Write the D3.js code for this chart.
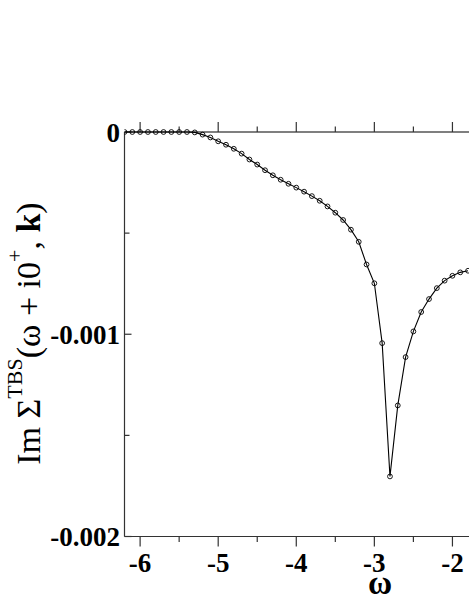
<!DOCTYPE html>
<html>
<head>
<meta charset="utf-8">
<script src="https://cdn.jsdelivr.net/npm/d3@7"></script>
<style>
	body { margin: 0; background: #fff; }
	svg { display: block; }
</style>
</head>
<body>
<div class="container"></div>
<script>
// omega values (x) and Im Sigma values (y)
var omega = [-6.2, -6.1, -6.0, -5.9, -5.8, -5.7, -5.6, -5.5, -5.4, -5.3,
	-5.2, -5.1, -5.0, -4.9, -4.8, -4.7, -4.6, -4.5, -4.4, -4.3,
	-4.2, -4.1, -4.0, -3.9, -3.8, -3.7, -3.6, -3.5, -3.4, -3.3,
	-3.2, -3.1, -3.0, -2.9, -2.8, -2.7, -2.6, -2.5, -2.4, -2.3,
	-2.2, -2.1, -2.0, -1.9, -1.8];
var imSigma = [0, 0, 0, 0, 0, 0, 0, 0, 0, -0.000002,
	-0.000013, -0.000027, -0.000046, -0.000063, -0.000083, -0.000107, -0.000136, -0.000161, -0.000189, -0.000214,
	-0.000236, -0.000256, -0.000275, -0.000295, -0.000317, -0.000340, -0.000368, -0.000399, -0.000435, -0.000483,
	-0.000543, -0.000655, -0.000748, -0.001044, -0.001703, -0.001352, -0.001113, -0.000986, -0.000890, -0.000826,
	-0.000772, -0.000735, -0.000711, -0.000694, -0.000686];

var xMajorTicks = [-6, -5, -4, -3, -2];
var xMinorTicks = [-5.5, -4.5, -3.5, -2.5, -1.5];
var yMajorTicks = [0, -0.001, -0.002];
var yMinorTicks = [-0.0005, -0.0015];
var yTickLabels = ['0', '-0.001', '-0.002'];

var width = 469, height = 607;
var plotLeft = 124.5, plotTop = 132, plotBottom = 536.5, plotRight = 500;

var svg = d3.select('.container').append('svg')
	.attr('width', width)
	.attr('height', height);

var x = d3.scaleLinear().domain([-6.2, -1.6]).range([plotLeft, plotLeft + 4.6 * 78.08]);
var y = d3.scaleLinear().domain([-0.002, 0]).range([plotBottom, plotTop]);

var tickFont = "'Liberation Serif', 'Times New Roman', serif";

// frame lines
svg.append('line')
	.attr('x1', plotLeft).attr('x2', plotRight)
	.attr('y1', plotTop).attr('y2', plotTop)
	.attr('stroke', '#000').attr('stroke-width', 1.2);
svg.append('line')
	.attr('x1', plotLeft).attr('x2', plotRight)
	.attr('y1', plotBottom).attr('y2', plotBottom)
	.attr('stroke', '#333').attr('stroke-width', 1.2);
svg.append('line')
	.attr('x1', plotLeft).attr('x2', plotLeft)
	.attr('y1', plotTop).attr('y2', plotBottom)
	.attr('stroke', '#333').attr('stroke-width', 1.2);

// x ticks, bottom (down) and top (up)
var xTicks = function (ticks, len) {
	svg.selectAll(null).data(ticks).enter().append('line')
		.attr('x1', function (d) { return x(d); })
		.attr('x2', function (d) { return x(d); })
		.attr('y1', plotBottom).attr('y2', plotBottom + len)
		.attr('stroke', '#333').attr('stroke-width', 1.2);
	svg.selectAll(null).data(ticks).enter().append('line')
		.attr('x1', function (d) { return x(d); })
		.attr('x2', function (d) { return x(d); })
		.attr('y1', plotTop).attr('y2', plotTop - len)
		.attr('stroke', '#333').attr('stroke-width', 1.2);
};
xTicks(xMajorTicks, 10);
xTicks(xMinorTicks, 5.5);

// y ticks, inward
var yTicks = function (ticks, len) {
	svg.selectAll(null).data(ticks).enter().append('line')
		.attr('x1', plotLeft).attr('x2', plotLeft + len)
		.attr('y1', function (d) { return y(d); })
		.attr('y2', function (d) { return y(d); })
		.attr('stroke', '#333').attr('stroke-width', 1.2);
};
yTicks(yMajorTicks, 7);
yTicks(yMinorTicks, 5);

// tick labels
svg.selectAll(null).data(xMajorTicks).enter().append('text')
	.attr('x', function (d) { return x(d); })
	.attr('y', 572)
	.attr('text-anchor', 'middle')
	.style('font-family', tickFont)
	.style('font-weight', 'bold')
	.style('font-size', '27px')
	.text(function (d) { return d; });

svg.selectAll(null).data(yMajorTicks).enter().append('text')
	.attr('x', 120)
	.attr('y', function (d) { return y(d) + 9.5; })
	.attr('text-anchor', 'end')
	.style('font-family', tickFont)
	.style('font-weight', 'bold')
	.style('font-size', '27px')
	.text(function (d, i) { return yTickLabels[i]; });

// axis titles
svg.append('text')
	.attr('x', 380).attr('y', 594)
	.attr('text-anchor', 'middle')
	.style('font-family', tickFont)
	.style('font-weight', 'bold')
	.style('font-size', '33px')
	.text('ω');

var ylab = svg.append('text')
	.attr('transform', 'translate(39.5,333.5) rotate(-90)')
	.attr('text-anchor', 'middle')
	.style('font-family', tickFont)
	.style('font-size', '34px');
ylab.append('tspan').text('Im Σ');
ylab.append('tspan').attr('dy', -18).style('font-size', '22px').text('TBS');
ylab.append('tspan').attr('dy', 18).text('(ω + i0');
ylab.append('tspan').attr('dy', -18).style('font-size', '22px').text('+');
ylab.append('tspan').attr('dy', 18).text(', ');
ylab.append('tspan').style('font-weight', 'bold').text('k');
ylab.append('tspan').text(')');

// data
svg.append('clipPath').attr('id', 'plotclip')
	.append('rect')
	.attr('x', plotLeft).attr('y', plotTop - 4)
	.attr('width', plotRight - plotLeft).attr('height', plotBottom - plotTop + 4);

var data = omega.map(function (d, i) { return [d, imSigma[i]]; });

var g = svg.append('g').attr('clip-path', 'url(#plotclip)');

g.append('path')
	.datum(data)
	.attr('fill', 'none')
	.attr('stroke', '#000')
	.attr('stroke-width', 1.1)
	.attr('d', d3.line()
		.x(function (d) { return x(d[0]); })
		.y(function (d) { return y(d[1]); }));

g.selectAll('circle').data(data).enter().append('circle')
	.attr('cx', function (d) { return x(d[0]); })
	.attr('cy', function (d) { return y(d[1]); })
	.attr('r', 2.4)
	.attr('fill', 'none')
	.attr('stroke', '#000')
	.attr('stroke-width', 0.9);
</script>
</body>
</html>
